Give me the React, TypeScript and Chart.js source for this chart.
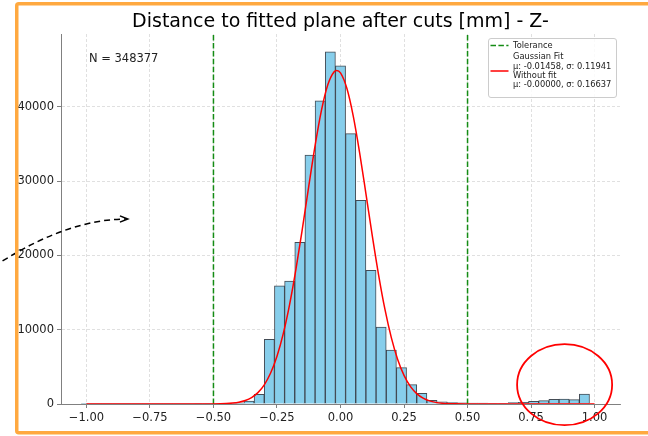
import { useEffect, useRef } from 'react';
import { Chart, registerables } from 'chart.js';

Chart.register(...registerables);

// ---------- data ----------
const binCenters = [
  -1.0, -0.96, -0.92, -0.88, -0.84, -0.8, -0.76, -0.72, -0.68, -0.64,
  -0.6, -0.56, -0.52, -0.48, -0.44, -0.4, -0.36, -0.32, -0.28, -0.24,
  -0.2, -0.16, -0.12, -0.08, -0.04, 0.0, 0.04, 0.08, 0.12, 0.16,
  0.2, 0.24, 0.28, 0.32, 0.36, 0.4, 0.44, 0.48, 0.52, 0.56,
  0.6, 0.64, 0.68, 0.72, 0.76, 0.8, 0.84, 0.88, 0.92, 0.96,
];
const binCounts = [
  5, 3, 4, 5, 6, 8, 10, 12, 15, 20,
  25, 30, 40, 60, 90, 150, 400, 1300, 8700, 15900,
  16550, 21760, 33500, 40800, 47400, 45500, 36400, 27400, 18000, 10360,
  7270, 4890, 2600, 1440, 500, 300, 200, 150, 120, 110,
  100, 100, 180, 220, 360, 450, 620, 670, 580, 1350,
];
const fitX = [
  -1.0, -0.6, -0.5, -0.45, -0.425, -0.4, -0.375, -0.35, -0.325, -0.3,
  -0.275, -0.25, -0.225, -0.2, -0.175, -0.15, -0.125, -0.1, -0.075, -0.05,
  -0.025, -0.015, 0.0, 0.025, 0.05, 0.075, 0.1, 0.125, 0.15, 0.175,
  0.2, 0.225, 0.25, 0.275, 0.3, 0.325, 0.35, 0.375, 0.4, 0.45,
  0.5, 0.6, 1.0,
];
const fitY = [
  0, 0, 12, 58, 122, 245, 472, 869, 1530, 2579,
  4163, 6431, 9506, 13449, 18213, 23604, 29282, 34767, 39508, 42969,
  44730, 44900, 44566, 42497, 38787, 33882, 28327, 22668, 17362, 12726,
  8928, 5995, 3854, 2370, 1395, 786, 424, 219, 108, 23,
  4, 0, 0,
];
const toleranceX = [-0.5, 0.5];
const xTicks = [-1.0, -0.75, -0.5, -0.25, 0.0, 0.25, 0.5, 0.75, 1.0];
const yTicks = [0, 10000, 20000, 30000, 40000];
const X_MIN = -1.1;
const X_MAX = 1.1;
const Y_MAX = 49800;

const titleText = 'Distance to fitted plane after cuts [mm] - Z-';
const nText = 'N = 348377';
const legendTolerance = 'Tolerance';
const legendFitLines = [
  'Gaussian Fit',
  'μ: -0.01458, σ: 0.11941',
  'Without fit',
  'μ: -0.00000, σ: 0.16637',
];

// annotation anchors (data coordinates)
const circleCenter = { x: 0.882, y: 2600 };
const circleRadius = { x: 0.187, y: 5450 };
const arrowStart = { x: -1.33, y: 19250 };
const arrowCtrl = { x: -1.066, y: 24900 };
const arrowEnd = { x: -0.837, y: 24900 };

const FONT = '"DejaVu Sans", "Liberation Sans", sans-serif';
const GREEN = 'rgb(20,140,20)';

const overlayPlugin = {
  id: 'overlay',
  afterDraw(chart: any) {
    const { ctx, chartArea: ca, scales } = chart;
    const xs = scales.x;
    const ys = scales.y;
    ctx.save();

    // title
    ctx.fillStyle = '#000';
    ctx.font = `19px ${FONT}`;
    ctx.textAlign = 'center';
    ctx.textBaseline = 'middle';
    ctx.fillText(titleText, (ca.left + ca.right) / 2, 22);

    // N label (axes fraction 0.05, 0.95, top-aligned)
    ctx.font = `11.5px ${FONT}`;
    ctx.textAlign = 'left';
    ctx.textBaseline = 'top';
    ctx.fillStyle = '#222';
    const w = ca.right - ca.left;
    const h = ca.bottom - ca.top;
    ctx.fillText(nText, ca.left + 0.05 * w, ca.bottom - 0.95 * h + 0.5);

    // legend
    const bw = 128;
    const bh = 59;
    const bx = ca.right - 4 - bw;
    const by = ca.top + 4;
    ctx.beginPath();
    if (ctx.roundRect) ctx.roundRect(bx + 0.5, by + 0.5, bw, bh, 2.5);
    else ctx.rect(bx + 0.5, by + 0.5, bw, bh);
    ctx.fillStyle = 'rgba(255,255,255,0.85)';
    ctx.fill();
    ctx.strokeStyle = '#cccccc';
    ctx.lineWidth = 1;
    ctx.stroke();

    ctx.lineWidth = 1.5;
    ctx.strokeStyle = GREEN;
    ctx.setLineDash([5.5, 2.4]);
    ctx.beginPath();
    ctx.moveTo(bx + 2.5, by + 7.5);
    ctx.lineTo(bx + 20.5, by + 7.5);
    ctx.stroke();
    ctx.setLineDash([]);
    ctx.strokeStyle = 'red';
    ctx.beginPath();
    ctx.moveTo(bx + 2.5, by + 33);
    ctx.lineTo(bx + 20.5, by + 33);
    ctx.stroke();

    ctx.font = `8.3px ${FONT}`;
    ctx.fillStyle = '#222';
    ctx.textAlign = 'left';
    ctx.textBaseline = 'middle';
    ctx.fillText(legendTolerance, bx + 25, by + 7.5);
    const rows = [19, 28.5, 37.5, 47];
    legendFitLines.forEach((t, i) => ctx.fillText(t, bx + 25, by + rows[i]));

    // red highlight ellipse
    const cx = xs.getPixelForValue(circleCenter.x);
    const cy = ys.getPixelForValue(circleCenter.y);
    const rx = Math.abs(xs.getPixelForValue(circleCenter.x + circleRadius.x) - cx);
    const ry = Math.abs(ys.getPixelForValue(circleCenter.y + circleRadius.y) - cy);
    ctx.strokeStyle = 'red';
    ctx.lineWidth = 1.8;
    ctx.beginPath();
    ctx.ellipse(cx, cy, rx, ry, 0, 0, Math.PI * 2);
    ctx.stroke();

    // dashed arrow
    const p0 = { x: xs.getPixelForValue(arrowStart.x), y: ys.getPixelForValue(arrowStart.y) };
    const p1 = { x: xs.getPixelForValue(arrowCtrl.x), y: ys.getPixelForValue(arrowCtrl.y) };
    const p2 = { x: xs.getPixelForValue(arrowEnd.x), y: ys.getPixelForValue(arrowEnd.y) };
    ctx.strokeStyle = '#000';
    ctx.lineWidth = 1.5;
    ctx.setLineDash([6, 4]);
    ctx.beginPath();
    ctx.moveTo(p0.x, p0.y);
    ctx.quadraticCurveTo(p1.x, p1.y, p2.x - 1, p2.y);
    ctx.stroke();
    ctx.setLineDash([]);
    const ang = Math.atan2(p2.y - p1.y, p2.x - p1.x);
    const hl = 8.5;
    ctx.beginPath();
    ctx.moveTo(p2.x - hl * Math.cos(ang - 0.38), p2.y - hl * Math.sin(ang - 0.38));
    ctx.lineTo(p2.x, p2.y);
    ctx.lineTo(p2.x - hl * Math.cos(ang + 0.38), p2.y - hl * Math.sin(ang + 0.38));
    ctx.stroke();

    // orange frame
    ctx.strokeStyle = '#ffa940';
    ctx.lineWidth = 3.5;
    ctx.beginPath();
    if (ctx.roundRect) ctx.roundRect(16.75, 3.75, 700, 429, 2);
    else ctx.rect(16.75, 3.75, 700, 429);
    ctx.stroke();

    ctx.restore();
  },
};

export default function App() {
  const ref = useRef<HTMLCanvasElement | null>(null);

  useEffect(() => {
    document.body.style.margin = '0';
    const canvas = ref.current;
    if (!canvas) return;
    const fmtX = (v: number) => v.toFixed(2).replace('-', '\u2212');
    const chart = new Chart(canvas, {
      type: 'bar',
      data: {
        datasets: [
          {
            type: 'line',
            label: 'Gaussian Fit',
            data: fitX.map((x, i) => ({ x, y: fitY[i] })),
            borderColor: 'red',
            borderWidth: 1.5,
            pointRadius: 0,
            cubicInterpolationMode: 'monotone',
            fill: false,
            order: 0,
          } as any,
          ...toleranceX.map((tx) => ({
            type: 'line',
            label: 'Tolerance',
            data: [
              { x: tx, y: 0 },
              { x: tx, y: Y_MAX },
            ],
            borderColor: GREEN,
            borderWidth: 1.5,
            borderDash: [5.5, 2.4],
            pointRadius: 0,
            fill: false,
            order: 1,
          } as any)),
          {
            type: 'bar',
            label: 'Histogram',
            data: binCenters.map((x, i) => ({ x, y: binCounts[i] })),
            backgroundColor: '#87ceeb',
            borderColor: 'rgba(35,45,55,0.85)',
            borderWidth: 1,
            borderSkipped: 'bottom',
            barPercentage: 1,
            categoryPercentage: 1,
            order: 2,
          } as any,
        ],
      },
      options: {
        responsive: false,
        animation: false,
        layout: { padding: { left: 0, right: 28, top: 34, bottom: 0 } },
        plugins: {
          legend: { display: false },
          tooltip: { enabled: false },
          title: { display: false },
        },
        scales: {
          x: {
            type: 'linear',
            min: X_MIN,
            max: X_MAX,
            offset: false,
            afterBuildTicks: (s: any) => {
              s.ticks = xTicks.map((v) => ({ value: v }));
            },
            afterFit: (s: any) => {
              s.height = 32;
            },
            ticks: {
              callback: (v: any) => fmtX(Number(v)),
              font: { family: FONT, size: 11.5 },
              color: '#222',
              padding: 3,
              maxRotation: 0,
              autoSkip: false,
            },
            grid: {
              offset: false,
              color: 'rgba(190,190,190,0.6)',
              lineWidth: 0.8,
              drawTicks: true,
              tickLength: 4,
              tickColor: '#808080',
              tickWidth: 1,
              tickBorderDash: [],
            },
            border: { display: true, color: '#808080', width: 1, dash: [3, 2] },
          } as any,
          y: {
            type: 'linear',
            min: 0,
            max: Y_MAX,
            afterBuildTicks: (s: any) => {
              s.ticks = yTicks.map((v) => ({ value: v }));
            },
            afterFit: (s: any) => {
              s.width = 61;
            },
            ticks: {
              callback: (v: any) => String(v),
              font: { family: FONT, size: 11.5 },
              color: '#222',
              padding: 3,
              autoSkip: false,
            },
            grid: {
              color: 'rgba(190,190,190,0.6)',
              lineWidth: 0.8,
              drawTicks: true,
              tickLength: 4,
              tickColor: '#808080',
              tickWidth: 1,
              tickBorderDash: [],
            },
            border: { display: true, color: '#808080', width: 1, dash: [3, 2] },
          } as any,
        },
      },
      plugins: [overlayPlugin],
    });
    return () => chart.destroy();
  }, []);

  return (
    <div style={{ position: 'fixed', left: 0, top: 0, width: 648, height: 436, background: '#fff' }}>
      <canvas ref={ref} width={648} height={436} style={{ display: 'block', width: 648, height: 436 }} />
    </div>
  );
}
